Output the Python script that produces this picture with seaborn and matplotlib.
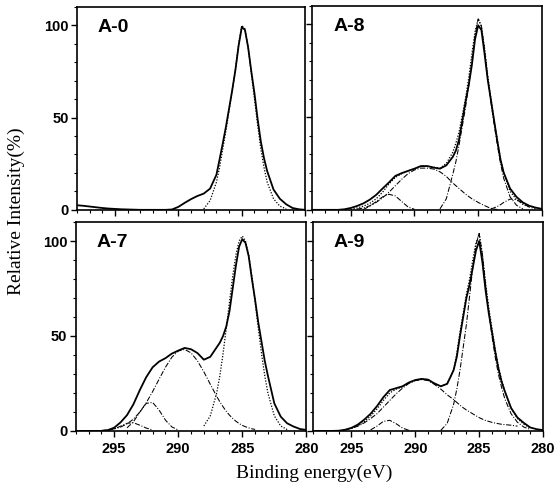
import numpy as np
import pandas as pd
import matplotlib
matplotlib.use("Agg")
import matplotlib.pyplot as plt
import seaborn as sns
from matplotlib.ticker import MultipleLocator
from matplotlib.font_manager import FontProperties

N = None

# Binding energy grid (eV) at which the curves were read (finer around the C1s peak)
energy = [298.0, 297.5, 297.0, 296.5, 296.0, 295.5, 295.0, 294.5, 294.0, 293.5,
          293.0, 292.5, 292.0, 291.5, 291.0, 290.5, 290.0, 289.5, 289.0, 288.5,
          288.0, 287.5,
          287.0, 286.75, 286.5, 286.25, 286.0, 285.75, 285.5, 285.25, 285.0,
          284.75, 284.5, 284.25, 284.0, 283.75, 283.5, 283.25, 283.0,
          282.5, 282.0, 281.5, 281.0, 280.5, 280.0]

panel_labels = ["A-0", "A-8", "A-7", "A-9"]
x_ticks = [295, 290, 285, 280]
y_ticks = [0, 50, 100]

# ---- A-0 ----
A0_measured = ([2.5, 2.2, 1.8, 1.4, 1.0, 0.7, 0.5, 0.3, 0.2, 0.1, 0, 0, 0, 0, 0, 0.2,
                1.6, 3.8, 5.8, 7.5, 8.8, 11.5]
               + [19, 27.4, 36, 45, 55, 65, 76, 89, 99, 97.5, 88, 75, 63, 49, 37, 28, 21]
               + [11, 6, 3, 1, 0.3, 0])
A0_fit = ([N]*20 + [0.5, 5]
          + [15, 23, 33, 43, 54, 65, 76, 90, 100, 98, 88, 74, 60, 46, 33, 23, 15]
          + [6, 2, 0.5, N, N, N])
A0_components = []

# ---- A-8 ----
A8_measured = ([0, 0, 0, 0, 0, 0.3, 1.0, 2.1, 3.5, 5.5, 8.1, 11.5, 14.8, 18.3, 19.8, 21,
                22.2, 23.6, 23.6, 22.8, 22.2, 24]
               + [28.5, 32, 38, 48, 58, 67, 78, 92, 99.5, 97, 84, 70, 59, 48, 37, 27, 20]
               + [11.5, 7, 4, 2.2, 1.2, 0.5])
A8_fit = ([N]*6 + [0.2, 1, 2, 3.5, 6, 9.5, 14, 17.5, 19.5, 21, 22.2, 23.5, 23.6, 23, 22.5, 25]
          + [31, 36, 42, 51, 60, 71, 84, 96, 103, 99, 87, 72, 60, 48, 38, 27, 20]
          + [10, 5.5, 3, 1.5, N, N])
A8_main = ([N]*20 + [0.5, 6]
           + [19, 26, 35, 45, 55, 67, 80, 94, 103, 99, 86, 71, 58, 46, 35, 25, 17]
           + [7, 2.5, 0.5, N, N, N])
A8_broad = ([N]*7 + [0.4, 1, 2.2, 4, 6.5, 9.5, 13, 16.5, 19.5, 21.5, 22.5, 22.5, 22, 20.5, 18]
            + [14.5, 13, 11.5, 10, 8.5, 7.2, 6, 5, 4, 3.1, 2.3, 1.5, 0.8, 0.4, 0.2, N, N]
            + [N]*6)
A8_peak292 = ([N]*8 + [0.2, 2, 4.5, 7, 8.4, 7.5, 4.5, 1.5, 0.3] + [N]*5
              + [N]*17 + [N]*6)
A8_peak282 = ([N]*22
              + [N]*12 + [0.5, 1.1, 1.8, 2.8, 4]
              + [5.8, 5.5, 3.5, 1.5, 0.5, N])
A8_components = [A8_main, A8_broad, A8_peak292, A8_peak282]

# ---- A-7 ----
A7_measured = ([0, 0, 0, 0, 0, 0.4, 1.7, 4.5, 8.3, 14, 21.5, 28.3, 33.5, 36.5, 38.3, 40.7,
                42.3, 43.7, 43, 41, 37.5, 39]
               + [44, 46.5, 50, 55, 63, 75, 87, 97, 101, 99, 92, 80, 69, 57, 47, 37, 29]
               + [14.5, 7.5, 4, 2.3, 1, 0.5])
A7_fit = ([N]*20 + [2.6, 7.9]
          + [19.9, 29.2, 40.8, 54, 68, 81.5, 92.6, 100, 102.6, 100, 92.6, 81.5, 68, 54, 40.8, 29.2, 19.9]
          + [7.9, 2.6, 0.7, N, N, N])
A7_broad = ([N]*4 + [0.2, 0.5, 1.1, 2.0, 3.7, 6.2, 9.9, 14.8, 20.7, 27.2, 33.5, 38.8, 42.1,
                     42.9, 41.1, 36.9, 31.1, 24.6]
            + [18.2, 15.3, 12.7, 10.3, 8.3, 6.6, 5.1, 3.9, 2.9, 2.2, 1.6, 1.1, 0.8, N, N, N, N]
            + [N]*6)
A7_peak292 = ([N]*8 + [1.6, 4.8, 9.9, 14.5, 15, 11, 5.7, 2.1, 0.5] + [N]*5
              + [N]*17 + [N]*6)
A7_peak294 = ([N]*5 + [0.3, 1, 2.5, 4, 4.3, 3, 1.5, 0.5] + [N]*9
              + [N]*17 + [N]*6)
A7_components = [A7_broad, A7_peak292, A7_peak294]

# ---- A-9 ----
A9_measured = ([0, 0, 0, 0, 0.1, 0.6, 1.6, 3.3, 5.9, 9, 13, 17.7, 21.5, 22.5, 23.5, 25.5,
                26.8, 27.4, 27, 25, 23.5, 24.8]
               + [32, 39, 50, 60, 70, 77, 86, 95, 100, 89, 74, 62, 52, 42, 33, 26, 21]
               + [12, 7, 4.2, 1.8, 0.9, 0.4])
A9_fit = ([N]*6 + [1.2, 2.6, 4.8, 7.8, 11.5, 16, 20, 22, 23.2, 25.3, 26.6, 27.2, 27, 25, 23.5, 25]
          + [32, 41, 52, 62, 72, 80, 90, 99, 104, 93, 78, 65, 54, 43, 34, 27, 21]
          + [12, 6.5, 3.5, 1.5, N, N])
A9_main = ([N]*20 + [0.3, 4]
           + [14, 22, 32, 44, 56, 71, 86, 98, 104, 93, 77, 63, 50, 39, 30, 23, 17]
           + [9, 4.5, 2, 0.8, N, N])
A9_broad = ([N]*5 + [0.5, 1.3, 2.5, 4.2, 6.5, 9, 12.5, 16, 19.5, 22.5, 25, 26.5, 27, 26.5,
                     24.5, 22, 19]
            + [16.5, 15, 13.5, 12.2, 11, 10, 9, 8, 7, 6.2, 5.5, 5, 4.5, 4.1, 3.8, 3.5, 3.3]
            + [3, 2.5, N, N, N, N])
A9_peak292 = ([N]*9 + [0.5, 2.5, 5, 5.6, 3.8, 1.5, 0.3] + [N]*6
              + [N]*17 + [N]*6)
A9_components = [A9_main, A9_broad, A9_peak292]

panels = {
    "A-0": (A0_measured, A0_fit, A0_components),
    "A-8": (A8_measured, A8_fit, A8_components),
    "A-7": (A7_measured, A7_fit, A7_components),
    "A-9": (A9_measured, A9_fit, A9_components),
}

sns.set_theme(style="white")
plt.rcParams['font.family'] = ['Liberation Sans', 'DejaVu Sans']

fig = plt.figure(figsize=(5.57, 4.88), dpi=100)
rects = {
    "A-0": [0.138, 0.570, 0.410, 0.416],
    "A-8": [0.561, 0.570, 0.412, 0.418],
    "A-7": [0.136, 0.117, 0.414, 0.428],
    "A-9": [0.562, 0.117, 0.413, 0.428],
}

def draw(ax, values, ls, lw):
    df = pd.DataFrame({"E": energy, "I": pd.Series(values, dtype=float)}).dropna()
    sns.lineplot(data=df, x="E", y="I", ax=ax, color="black", linestyle=ls,
                 linewidth=lw, estimator=None, sort=False, legend=False)

tick_fp = FontProperties(family='Liberation Sans', weight='bold', size=10.5)

for name in panel_labels:
    measured, fit, comps = panels[name]
    ax = fig.add_axes(rects[name])
    ax.set_facecolor("white")
    for c in comps:
        draw(ax, c, (0, (5, 1.6, 1, 1.6)), 0.75)
    draw(ax, fit, (0, (1, 1.3)), 0.9)
    draw(ax, measured, "-", 1.3)

    ax.set_xlim(298, 280)
    ax.set_ylim(0, 110)
    ax.set_xticks(x_ticks)
    ax.set_yticks(y_ticks)
    ax.xaxis.set_minor_locator(MultipleLocator(1))
    ax.yaxis.set_minor_locator(MultipleLocator(10))
    ax.tick_params(which='major', direction='out', length=4, width=1.0,
                   bottom=True, left=True, top=False, right=False, color='black',
                   pad=2)
    ax.tick_params(which='minor', direction='out', length=2, width=0.8,
                   bottom=True, left=True, top=False, right=False, color='black')
    ax.tick_params(axis='x', which='major', pad=4)
    ax.set_xlabel("")
    ax.set_ylabel("")
    for s in ax.spines.values():
        s.set_visible(True)
        s.set_color("black")
        s.set_linewidth(1.2)
    if name in ("A-0", "A-8"):
        ax.tick_params(labelbottom=False)
    if name in ("A-8", "A-9"):
        ax.tick_params(labelleft=False)
    for lab in ax.get_xticklabels() + ax.get_yticklabels():
        lab.set_fontproperties(tick_fp)
        lab.set_color("black")
    ax.text(0.09, 0.90, name, transform=ax.transAxes, ha='left', va='center',
            fontsize=14, fontweight='bold', family='Liberation Sans', color='black')

fig.text(0.030, 0.567, "Relative Intensity(%)", rotation=90, ha='center', va='center',
         family='Liberation Serif', fontsize=14, color='black')
fig.text(0.564, 0.031, "Binding energy(eV)", ha='center', va='center',
         family='Liberation Serif', fontsize=14, color='black')

fig.savefig("out.png", dpi=100, facecolor="white")
